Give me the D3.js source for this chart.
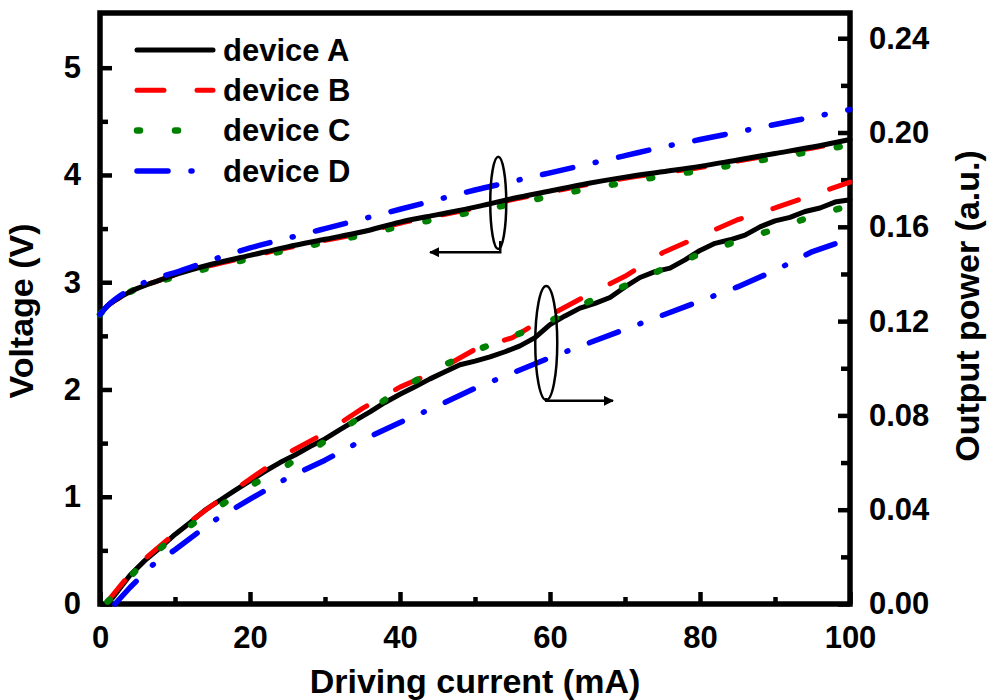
<!DOCTYPE html>
<html>
<head>
    <meta charset="utf-8" />
    <title>LED devices</title>
    <script src="https://cdn.jsdelivr.net/npm/d3@7/dist/d3.min.js"></script>
    <style>
        body { margin: 0; background: #fff; }
        text { font-family: "Liberation Sans", Arial, sans-serif; font-weight: bold; fill: #000; }
        .curve { fill: none; stroke-width: 5; stroke-linecap: round; stroke-linejoin: round; }
        .devA { stroke: #000; }
        .devB { stroke: #ff0000; stroke-dasharray: 27, 33; }
        .devC { stroke: #008000; stroke-dasharray: 3, 35; stroke-width: 6.5; }
        .devD { stroke: #0000ff; stroke-dasharray: 31, 23, 1, 23; stroke-width: 5.5; }
        .tick line { stroke: #000; stroke-width: 4.5; }
        .anno { fill: none; stroke: #000; stroke-width: 2.5; }
    </style>
</head>
<body>
    <svg width="989" height="700"></svg>

    <script>
        // voltage curves (left axis)
        var currentV = [0, 1, 2, 4, 6, 8, 10, 15, 20, 25, 30, 35, 40, 45, 50, 55, 60, 65, 70, 75, 80, 85, 90, 95, 100];
        var voltA = [2.70, 2.78, 2.83, 2.91, 2.97, 3.02, 3.07, 3.17, 3.25, 3.33, 3.40, 3.47, 3.56, 3.63, 3.70, 3.78, 3.85, 3.92, 3.98, 4.03, 4.08, 4.14, 4.20, 4.26, 4.33];
        var voltB = [2.70, 2.78, 2.83, 2.91, 2.97, 3.02, 3.07, 3.16, 3.24, 3.32, 3.39, 3.46, 3.55, 3.62, 3.69, 3.77, 3.84, 3.91, 3.97, 4.02, 4.07, 4.13, 4.19, 4.25, 4.32];
        var voltC = [2.70, 2.78, 2.83, 2.91, 2.97, 3.01, 3.05, 3.14, 3.22, 3.30, 3.37, 3.44, 3.52, 3.59, 3.66, 3.73, 3.80, 3.87, 3.93, 3.99, 4.04, 4.10, 4.16, 4.22, 4.28];
        var voltD = [2.70, 2.78, 2.84, 2.93, 3.00, 3.05, 3.09, 3.21, 3.32, 3.41, 3.50, 3.59, 3.68, 3.77, 3.86, 3.94, 4.02, 4.10, 4.18, 4.26, 4.33, 4.40, 4.47, 4.54, 4.61];

        // output power curves (right axis)
        var currentPA = [1, 2, 4, 6, 8, 10, 12, 14, 16, 18, 20, 22, 24, 26, 28, 30, 32, 34, 36, 38, 40, 42, 44, 46, 48, 50,
            52, 54, 56, 58, 60, 62, 64, 66, 68, 70, 72, 74, 76, 78, 80, 82, 84, 86, 88, 90, 92, 94, 96, 98, 100];
        var powerA = [0.000, 0.004, 0.0122, 0.0185, 0.0238, 0.0295, 0.0345, 0.0398, 0.0440, 0.0482, 0.0522, 0.0563, 0.0600,
            0.0632, 0.0668, 0.0700, 0.0740, 0.0778, 0.0815, 0.0855, 0.0890, 0.0922, 0.0955, 0.0985, 0.1015, 0.1030,
            0.1048, 0.1070, 0.1095, 0.1130, 0.1185, 0.1222, 0.1255, 0.1275, 0.1300, 0.1345, 0.1385, 0.1410, 0.1425,
            0.1460, 0.1500, 0.1530, 0.1545, 0.1565, 0.1600, 0.1625, 0.1640, 0.1665, 0.1680, 0.1705, 0.1715];
        var currentP = [1, 2, 5, 10, 15, 20, 25, 30, 35, 40, 45, 50, 55, 60, 65, 70, 75, 80, 85, 90, 95, 100];
        var powerB = [0.001, 0.005, 0.0165, 0.030, 0.042, 0.053, 0.064, 0.0725, 0.083, 0.092, 0.099, 0.108, 0.113, 0.1225, 0.131, 0.139, 0.149, 0.156, 0.163, 0.168, 0.1735, 0.179];
        var powerC = [0.001, 0.004, 0.015, 0.029, 0.0395, 0.050, 0.059, 0.069, 0.080, 0.091, 0.100, 0.1075, 0.1135, 0.120, 0.128, 0.135, 0.142, 0.1485, 0.154, 0.159, 0.1645, 0.169];
        var currentPD = [2, 4, 7, 10, 15, 20, 25, 30, 35, 40, 45, 50, 55, 60, 65, 70, 75, 80, 85, 90, 95, 100];
        var powerD = [0.000, 0.007, 0.0165, 0.023, 0.035, 0.0445, 0.0535, 0.061, 0.0695, 0.077, 0.084, 0.0915, 0.098, 0.1045, 0.1105, 0.1165, 0.1225, 0.1285, 0.1345, 0.1415, 0.1495, 0.155];

        var devices = ["device A", "device B", "device C", "device D"];
        var xTicks = [0, 20, 40, 60, 80, 100];
        var vTicks = [0, 1, 2, 3, 4, 5];
        var pTicks = [0, 0.04, 0.08, 0.12, 0.16, 0.20, 0.24];

        var svg = d3.select("svg");
        var plotLeft = 100, plotRight = 850, plotTop = 13, plotBottom = 604;

        var x = d3.scaleLinear().domain([0, 100]).range([plotLeft, plotRight]);
        var yV = d3.scaleLinear().domain([0, 5.51]).range([plotBottom, plotTop]);
        var yP = d3.scaleLinear().domain([0, 0.2507]).range([plotBottom, plotTop]);

        function pairs(xs, ys) {
            return xs.map(function (d, i) { return [d, ys[i]]; });
        }
        var lineV = d3.line().x(function (d) { return x(d[0]); }).y(function (d) { return yV(d[1]); }).curve(d3.curveMonotoneX);
        var lineP = d3.line().x(function (d) { return x(d[0]); }).y(function (d) { return yP(d[1]); });

        // minor ticks first, then major ones with labels
        function minor(axis, g) {
            g.call(axis.tickFormat("")).select(".domain").remove();
        }
        var xAxisMinor = svg.append("g").attr("transform", "translate(0," + plotBottom + ")");
        minor(d3.axisBottom(x).tickValues(d3.range(10, 100, 20)).tickSize(-7), xAxisMinor);
        var yAxisMinor = svg.append("g").attr("transform", "translate(" + plotLeft + ",0)");
        minor(d3.axisLeft(yV).tickValues(d3.range(0.5, 5.5, 1)).tickSize(-8), yAxisMinor);
        var pAxisMinor = svg.append("g").attr("transform", "translate(" + plotRight + ",0)");
        minor(d3.axisRight(yP).tickValues([0.02, 0.06, 0.10, 0.14, 0.18, 0.22]).tickSize(-9), pAxisMinor);

        var xAxis = svg.append("g").attr("transform", "translate(0," + plotBottom + ")")
            .call(d3.axisBottom(x).tickValues(xTicks).tickSize(-12).tickPadding(22));
        var yAxis = svg.append("g").attr("transform", "translate(" + plotLeft + ",0)")
            .call(d3.axisLeft(yV).tickValues(vTicks).tickSize(-12).tickPadding(19).tickFormat(d3.format("d")));
        var pAxis = svg.append("g").attr("transform", "translate(" + plotRight + ",0)")
            .call(d3.axisRight(yP).tickValues(pTicks).tickSize(-12).tickPadding(19).tickFormat(d3.format(".2f")));
        [xAxis, yAxis, pAxis].forEach(function (g) {
            g.select(".domain").remove();
            g.selectAll("text").style("font-size", "31px").style("font-family", "Liberation Sans, Arial, sans-serif")
                .style("font-weight", "bold").attr("fill", "#000");
        });

        // frame
        svg.append("rect").attr("x", plotLeft).attr("y", plotTop).attr("width", plotRight - plotLeft).attr("height", plotBottom - plotTop)
            .attr("fill", "none").attr("stroke", "#000").attr("stroke-width", 5.5);

        // power curves
        var plot = svg.append("g");
        plot.append("path").attr("class", "curve devA").attr("d", lineP(pairs(currentPA, powerA)));
        plot.append("path").attr("class", "curve devB").attr("d", lineP(pairs(currentP, powerB)));
        plot.append("path").attr("class", "curve devC").attr("d", lineP(pairs(currentP, powerC)));
        plot.append("path").attr("class", "curve devD").attr("d", lineP(pairs(currentPD, powerD)));

        // voltage curves
        plot.append("path").attr("class", "curve devB").attr("d", lineV(pairs(currentV, voltB)));
        plot.append("path").attr("class", "curve devC").attr("d", lineV(pairs(currentV, voltC)));
        plot.append("path").attr("class", "curve devA").attr("d", lineV(pairs(currentV, voltA)));
        plot.append("path").attr("class", "curve devD").attr("d", lineV(pairs(currentV, voltD)));

        // arrow heads
        var defs = svg.append("defs");
        defs.append("marker").attr("id", "arrow").attr("viewBox", "0 0 10 10").attr("refX", 9).attr("refY", 5)
            .attr("markerWidth", 5).attr("markerHeight", 4).attr("markerUnits", "strokeWidth").attr("orient", "auto")
            .append("path").attr("d", "M0,0 L10,5 L0,10 z").attr("fill", "#000");

        // annotation: voltage group -> left axis
        var eV = { i: 53.1, v: 3.74, rv: 0.43 };
        svg.append("ellipse").attr("class", "anno")
            .attr("cx", x(eV.i)).attr("cy", yV(eV.v)).attr("rx", 8).attr("ry", yV(0) - yV(eV.rv));
        svg.append("path").attr("class", "anno").attr("marker-end", "url(#arrow)")
            .attr("d", "M" + (x(eV.i) + 2) + "," + (yV(eV.v - eV.rv) - 8) + "V" + yV(3.28) + "H" + x(44));

        // annotation: power group -> right axis
        var eP = { i: 59.5, p: 0.1107, rp: 0.0242 };
        svg.append("ellipse").attr("class", "anno")
            .attr("cx", x(eP.i)).attr("cy", yP(eP.p)).attr("rx", 11).attr("ry", yP(0) - yP(eP.rp));
        svg.append("path").attr("class", "anno").attr("marker-end", "url(#arrow)")
            .attr("d", "M" + x(eP.i) + "," + (yP(eP.p - eP.rp) - 2) + "V" + yP(0.0862) + "H" + x(68.4));

        // legend
        var legend = svg.append("g");
        var styles = ["devA", "devB", "devC", "devD"];
        devices.forEach(function (name, i) {
            var yy = 50 + i * 40.3;
            legend.append("line").attr("class", "curve " + styles[i])
                .attr("x1", 137).attr("x2", 213).attr("y1", yy).attr("y2", yy);
            legend.append("text").attr("x", 223).attr("y", yy).attr("dy", "0.35em")
                .style("font-size", "31px").text(name);
        });

        // axis titles
        svg.append("text").attr("text-anchor", "middle").style("font-size", "34px")
            .attr("x", 475).attr("y", 693).text("Driving current (mA)");
        svg.append("text").attr("text-anchor", "middle").style("font-size", "34px")
            .attr("transform", "translate(33,311) rotate(-90)").text("Voltage (V)");
        svg.append("text").attr("text-anchor", "middle").style("font-size", "34px")
            .attr("transform", "translate(979,306) rotate(-90)").text("Output power (a.u.)");
    </script>
</body>
</html>
